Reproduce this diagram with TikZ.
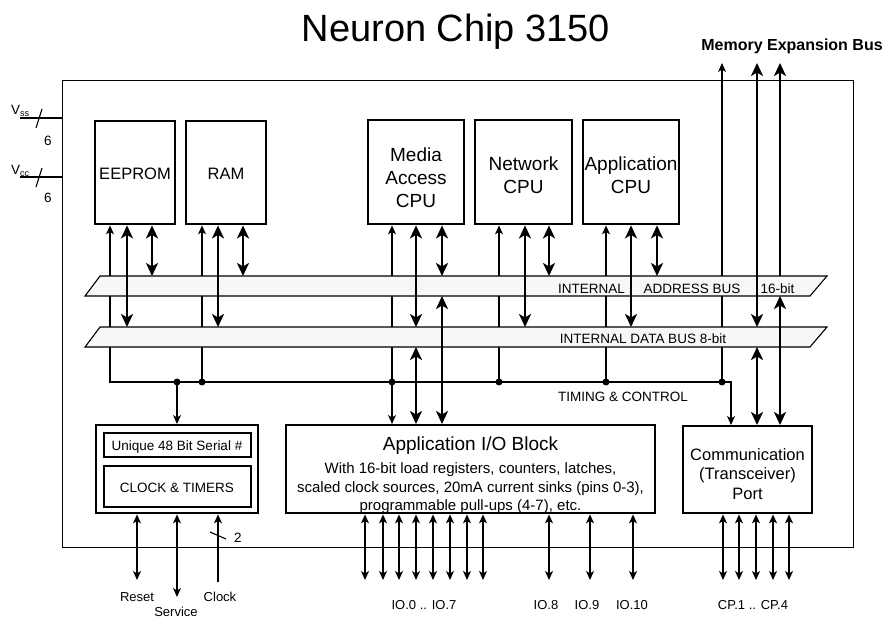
\documentclass[tikz,border=0pt]{standalone}
\usepackage{fontspec}
\setmainfont{Liberation Sans}
\usetikzlibrary{arrows.meta}
\tikzset{
  tn/.tip={Stealth[length=9pt,width=8pt,inset=2.5pt]},
  tk/.tip={Stealth[length=13pt,width=12pt,inset=3.5pt]},
}
\newcommand\fsz[2]{\fontsize{#1}{#2}\selectfont}
\begin{document}
\begin{tikzpicture}[x=1pt,y=-1pt,
  thinl/.style={line width=1.1pt},
  thickl/.style={line width=2.6pt},
  blk/.style={draw, line width=2.4pt, inner sep=0pt, anchor=north west},
  sblk/.style={draw, line width=1.5pt, inner sep=0pt, anchor=north west},
  txt/.style={inner sep=0pt, anchor=base},
  lbl/.style={txt, font=\fsz{13.5}{16}},
  pin/.style={txt, font=\fsz{13}{16}},
  btxt/.style={txt, font=\fsz{16.5}{20}},
  ctxt/.style={txt, font=\fsz{19}{23}},
  iotx/.style={txt, font=\fsz{15}{18}},
  bus/.style={draw, line width=1.1pt, fill=black!3},
  jdot/.style={circle, fill, inner sep=0pt, minimum size=7pt}
]
\useasboundingbox (0,0) rectangle (888,617);

% chip outline
\node[draw, line width=1.2pt, inner sep=0pt, minimum width=791pt, minimum height=467pt, anchor=north west] (chip) at (62,80) {};

% titles
\node[txt, font=\fsz{38}{44}] (title) at (456,42) {Neuron Chip 3150};
\node[txt, font=\fsz{16}{19}\bfseries] (meb) at (792,51) {Memory Expansion Bus};

% helper coordinates
\foreach \c in {110,127,137,152,177,202,218,243,365,383,392,399,416,433,442,450,467,483,499,525,549,590,606,631,633,657,722,723,731,739,756,757,773,780,789}
  \coordinate (c\c) at (\c,0);
\coordinate (abBL) at (85,296);
\coordinate (abTL) at (100,276);
\coordinate (abTR) at (827,276);
\coordinate (abBR) at (810,296);
\coordinate (dbBL) at (85,347);
\coordinate (dbTL) at (100,327);
\coordinate (dbTR) at (827,327);
\coordinate (dbBR) at (810,347);
\coordinate (tl) at (0,382);
\coordinate (metop) at (0,63);
\coordinate (pinb) at (0,580);
\coordinate (svcb) at (0,597);
\coordinate (clkb) at (0,582);

% blocks
\node[blk, minimum width=80pt, minimum height=103pt] (eeprom) at (94,120) {};
\node[blk, minimum width=80pt, minimum height=103pt] (ram) at (185,120) {};
\node[blk, minimum width=96pt, minimum height=104pt] (mac) at (367,119) {};
\node[blk, minimum width=97pt, minimum height=104pt] (ncpu) at (474,119) {};
\node[blk, minimum width=96pt, minimum height=104pt] (acpu) at (582,119) {};
\node[blk, minimum width=162pt, minimum height=88pt] (clk) at (95,424) {};
\node[sblk, minimum width=147pt, minimum height=24pt] (serial) at (103,432) {};
\node[sblk, minimum width=147pt, minimum height=41pt] (timers) at (103,465) {};
\node[blk, minimum width=369pt, minimum height=88pt] (io) at (285,424) {};
\node[blk, minimum width=129pt, minimum height=87pt] (comm) at (682,425) {};

% block texts
\node[btxt] (eepromt) at (135,180) {EEPROM};
\node[btxt] (ramt) at (226,180) {RAM};
\node[ctxt] (mact1) at (416,162) {Media};
\node[ctxt] (mact2) at (416,185) {Access};
\node[ctxt] (mact3) at (416,208) {CPU};
\node[ctxt] (ncput1) at (523.5,171) {Network};
\node[ctxt] (ncput2) at (523.5,194) {CPU};
\node[ctxt] (acput1) at (631,171) {Application};
\node[ctxt] (acput2) at (631,194) {CPU};
\node[lbl] (serialt) at (177,450) {Unique 48 Bit Serial \#};
\node[lbl] (timerst) at (177,492) {CLOCK \& TIMERS};
\node[txt, font=\fsz{19}{22}] (iot) at (470.5,450) {Application I/O Block};
\node[iotx] (io1) at (470.5,473) {With 16-bit load registers, counters, latches,};
\node[iotx] (io2) at (470.5,492) {scaled clock sources, 20mA current sinks (pins 0-3),};
\node[iotx] (io3) at (470.5,510) {programmable pull-ups (4-7), etc.};
\node[btxt] (ct1) at (747.5,460) {Communication};
\node[btxt] (ct2) at (747.5,479) {(Transceiver)};
\node[btxt] (ct3) at (747.5,499) {Port};

% thin control lines (hidden behind buses)
\draw[thinl, tn-tn] (eeprom.south -| c110) -- (c110 |- tl) -- (c731 |- tl) -- (comm.north -| c731);
\draw[thinl, tn-] (ram.south -| c202) -- (c202 |- tl);
\draw[thinl, tn-] (mac.south -| c392) -- (c392 |- tl);
\draw[thinl, -tn] (c392 |- tl) -- (io.north -| c392);
\draw[thinl, tn-] (ncpu.south -| c499) -- (c499 |- tl);
\draw[thinl, tn-] (acpu.south -| c606) -- (c606 |- tl);
\draw[thinl, tn-] (c722 |- metop) -- (c722 |- tl);
\draw[thinl, -tn] (c177 |- tl) -- (clk.north -| c177);

% buses
\draw[bus] (abBL) -- (abTL) -- (abTR) -- (abBR) -- cycle;
\draw[bus] (dbBL) -- (dbTL) -- (dbTR) -- (dbBR) -- cycle;

% thick data/address lines
\draw[thickl, tk-tk] (eeprom.south -| c127) -- (c127 |- dbTL);
\draw[thickl, tk-tk] (eeprom.south -| c152) -- (c152 |- abTL);
\draw[thickl, tk-tk] (ram.south -| c218) -- (c218 |- dbTL);
\draw[thickl, tk-tk] (ram.south -| c243) -- (c243 |- abTL);
\draw[thickl, tk-tk] (mac.south -| c416) -- (c416 |- dbTL);
\draw[thickl, tk-tk] (mac.south -| c442) -- (c442 |- abTL);
\draw[thickl, tk-tk] (ncpu.south -| c525) -- (c525 |- dbTL);
\draw[thickl, tk-tk] (ncpu.south -| c549) -- (c549 |- abTL);
\draw[thickl, tk-tk] (acpu.south -| c631) -- (c631 |- dbTL);
\draw[thickl, tk-tk] (acpu.south -| c657) -- (c657 |- abTL);
\draw[thickl, tk-tk] (c416 |- dbBL) -- (io.north -| c416);
\draw[thickl, tk-tk] (c442 |- abBL) -- (io.north -| c442);
\draw[thickl, tk-tk] (c757 |- metop) -- (c757 |- dbTL);
\draw[thickl, tk-tk] (c757 |- dbBL) -- (comm.north -| c757);
\draw[thickl, -tk] (c780 |- abTL) -- (c780 |- metop);
\draw[thickl, tk-tk] (c780 |- abBL) -- (comm.north -| c780);

% junction dots
\foreach \c in {177,202,392,499,606,722}
  \node[jdot] (d\c) at (c\c |- tl) {};

% bus labels
\node[lbl] (abl1) at (591.5,294) {INTERNAL};
\node[lbl] (abl2) at (692,294) {ADDRESS BUS};
\node[lbl] (abl3) at (777.5,294) {16-bit};
\node[lbl] (dbl) at (643,343) {INTERNAL DATA BUS 8-bit};
\node[lbl] (tcl) at (623,401) {TIMING \& CONTROL};

% supply pins
\coordinate (vss) at (20,118);
\coordinate (vcc) at (20,177);
\draw[thinl] (vss) -- (vss -| chip.west);
\draw[thinl] (vcc) -- (vcc -| chip.west);
\draw[thinl] (36,128) -- (42,109);
\draw[thinl] (36,187) -- (42,168);
\node[lbl, anchor=base west] (vssl) at (11,115) {V{\fsz{9}{10}\raisebox{-1.5pt}{ss}}};
\node[lbl, anchor=base west] (vccl) at (11,175) {V{\fsz{9}{10}\raisebox{-1.5pt}{cc}}};
\node[lbl] (vss6) at (48,146) {6};
\node[lbl] (vcc6) at (48,203) {6};

% clock block pins
\draw[thinl, tn-tn] (clk.south -| c137) -- (c137 |- pinb);
\draw[thinl, tn-tn] (clk.south -| c177) -- (c177 |- svcb);
\draw[thinl, -tn] (c218 |- clkb) -- (clk.south -| c218);
\draw[thinl] (210,532) -- (226,539);
\node[lbl] (two) at (238,542) {2};

% IO pins
\foreach \c in {365,383,399,416,433,450,467,483,549,590,633}
  \draw[thinl, tn-tn] (io.south -| c\c) -- (c\c |- pinb);
% CP pins
\foreach \c in {723,739,756,773,789}
  \draw[thinl, tn-tn] (comm.south -| c\c) -- (c\c |- pinb);

% pin labels
\node[pin] (reset) at (137,601) {Reset};
\node[pin] (service) at (176,616) {Service};
\node[pin] (clock) at (220,601) {Clock};
\node[pin] (io07) at (424,609) {IO.0 .. IO.7};
\node[pin] (io8) at (546,609) {IO.8};
\node[pin] (io9) at (587,609) {IO.9};
\node[pin] (io10) at (632,609) {IO.10};
\node[pin] (cp) at (753,609) {CP.1 .. CP.4};
\end{tikzpicture}
\end{document}
